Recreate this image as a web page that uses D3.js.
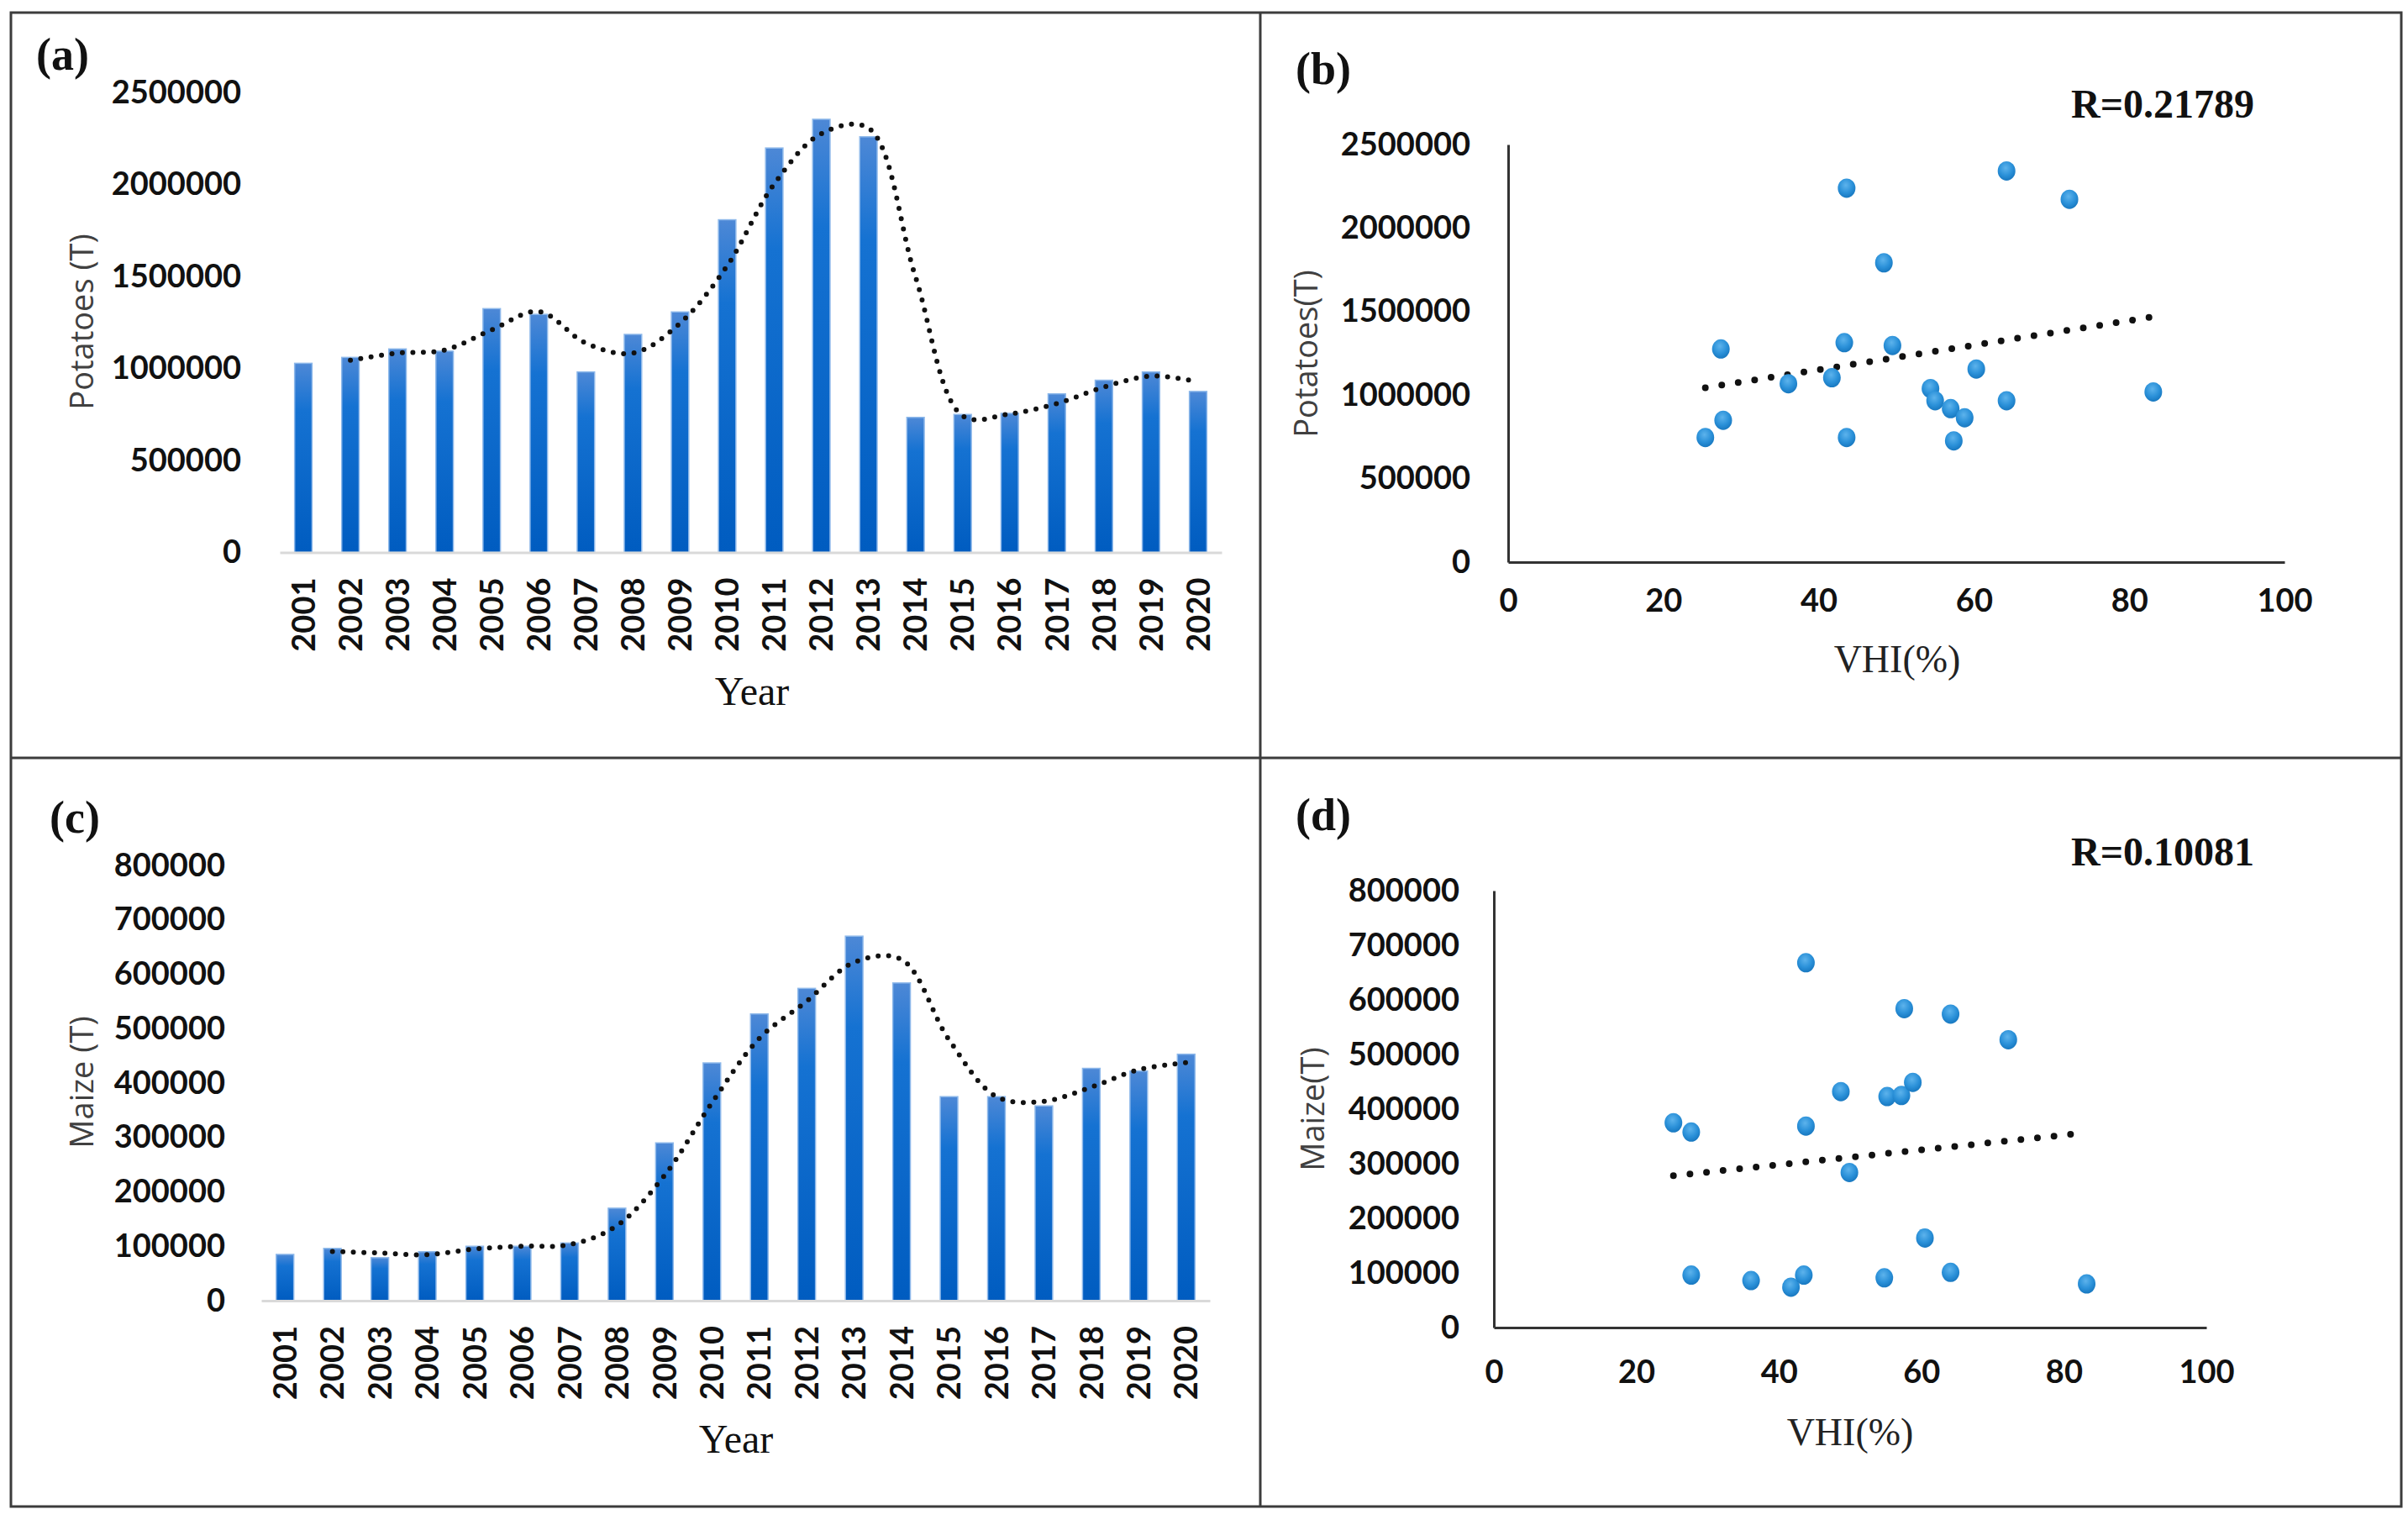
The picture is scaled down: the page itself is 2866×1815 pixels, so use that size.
<!DOCTYPE html>
<html>
<head>
<meta charset="utf-8">
<script src="https://cdn.jsdelivr.net/npm/d3@7"></script>
<style>
  body { margin: 0; background: #fff; }
  svg { display: block; }
</style>
</head>
<body>
<svg id="chart" width="2866" height="1815"></svg>
<script>
// values
const years = ["2001","2002","2003","2004","2005","2006","2007","2008","2009","2010",
               "2011","2012","2013","2014","2015","2016","2017","2018","2019","2020"];
const potatoes = [1028000, 1060000, 1106000, 1094000, 1325000, 1294000, 981000, 1185000, 1307000, 1808000,
                  2198000, 2354000, 2259000, 734000, 750000, 756000, 862000, 936000, 981000, 875000];
const maize = [85000, 96000, 79000, 90000, 100000, 100000, 106000, 170000, 290000, 437000,
               527000, 574000, 670000, 584000, 375000, 375000, 358000, 427000, 422000, 453000];

const potTicks = [0, 500000, 1000000, 1500000, 2000000, 2500000];
const maizeTicks = [0, 100000, 200000, 300000, 400000, 500000, 600000, 700000, 800000];
const vhiTicks = [0, 20, 40, 60, 80, 100];

// scatter (b): VHI vs potatoes
const vhiPot = [25.4, 27.7, 27.4, 36.1, 41.7, 43.3, 43.6, 43.6, 48.4, 49.5,
                54.4, 55.0, 57.0, 58.8, 57.4, 60.3, 64.2, 64.2, 72.3, 83.1];
const potPoints = [746000, 849000, 1276000, 1068000, 1104000, 1314000, 2239000, 746000, 1792000, 1297000,
                   1039000, 966000, 919000, 864000, 726000, 1156000, 2342000, 966000, 2172000, 1019000];
// scatter (d): VHI vs maize
const vhiMaize = [25.2, 27.7, 27.7, 36.1, 41.7, 43.5, 43.8, 43.8, 48.7, 49.9,
                  54.8, 55.2, 57.2, 57.6, 58.8, 60.5, 64.1, 64.1, 72.2, 83.2];
const maizePoints = [375000, 358000, 96000, 86000, 74000, 96000, 668000, 369000, 432000, 284000,
                     91000, 423000, 425000, 584000, 449000, 164000, 574000, 101000, 527000, 80000];

const trendSpanPot = [25.4, 83.1];
const trendSpanMaize = [25.2, 81];
const rPot = "R=0.21789";
const rMaize = "R=0.10081";

const svg = d3.select("#chart");
const tickFont = "Lato, 'Noto Sans', sans-serif";
const serif = "'Liberation Serif', 'DejaVu Serif', serif";
const titleFont = "'Open Sans', 'Noto Sans', sans-serif";

const defs = svg.append("defs");
const barGrad = defs.append("linearGradient")
  .attr("id", "barGrad").attr("x1", 0).attr("y1", 0).attr("x2", 0).attr("y2", 1);
barGrad.append("stop").attr("offset", "0%").attr("stop-color", "#4d88d6");
barGrad.append("stop").attr("offset", "25%").attr("stop-color", "#1572d2");
barGrad.append("stop").attr("offset", "100%").attr("stop-color", "#005cc0");

const dotGrad = defs.append("radialGradient")
  .attr("id", "dotGrad").attr("cx", "45%").attr("cy", "35%").attr("r", "65%");
dotGrad.append("stop").attr("offset", "0%").attr("stop-color", "#5db3ec");
dotGrad.append("stop").attr("offset", "60%").attr("stop-color", "#2b91d9");
dotGrad.append("stop").attr("offset", "100%").attr("stop-color", "#1878c0");

// frame and panel dividers
svg.append("rect")
  .attr("x", 13).attr("y", 15).attr("width", 2845).attr("height", 1778)
  .attr("fill", "none").attr("stroke", "#3c3c3c").attr("stroke-width", 3);
svg.append("line").attr("x1", 1500).attr("x2", 1500).attr("y1", 15).attr("y2", 1793)
  .attr("stroke", "#3c3c3c").attr("stroke-width", 3);
svg.append("line").attr("x1", 13).attr("x2", 2858).attr("y1", 902).attr("y2", 902)
  .attr("stroke", "#3c3c3c").attr("stroke-width", 3);

function styleTicks(g) {
  g.selectAll("text")
    .attr("fill", "#111")
    .style("font-family", tickFont)
    .style("font-weight", 700)
    .style("font-size", "38px");
}

function barPanel(cfg) {
  const x = d3.scaleBand()
    .domain(years)
    .range(cfg.xRange)
    .paddingInner(0.63)
    .paddingOuter(0.315);

  const y = d3.scaleLinear()
    .domain([0, d3.max(cfg.ticks)])
    .range(cfg.yRange);

  svg.append("g")
    .selectAll("rect")
    .data(cfg.values)
    .join("rect")
    .attr("x", (d, i) => x(years[i]))
    .attr("y", d => y(d))
    .attr("width", x.bandwidth())
    .attr("height", d => y(0) - y(d))
    .attr("fill", "url(#barGrad)")
    .attr("stroke", "#8db8ea")
    .attr("stroke-width", 1.5);

  const xAxis = svg.append("g")
    .attr("transform", `translate(0,${y(0)})`)
    .call(d3.axisBottom(x).tickSize(0).tickSizeOuter(0));
  xAxis.select(".domain").attr("stroke", "#d9d9d9").attr("stroke-width", 3);
  styleTicks(xAxis);
  xAxis.selectAll("text")
    .attr("transform", "rotate(-90)")
    .attr("x", -cfg.labelGap)
    .attr("y", 0)
    .attr("dy", "0.36em")
    .style("text-anchor", "end");

  const yAxis = svg.append("g")
    .attr("transform", `translate(${cfg.labelRight},0)`)
    .call(d3.axisLeft(y).tickValues(cfg.ticks).tickFormat(d3.format("d")).tickSize(0).tickPadding(0));
  yAxis.select(".domain").remove();
  styleTicks(yAxis);

  // 2-period moving average trend
  const avg = cfg.values.slice(1).map((v, i) => ({ year: years[i + 1], v: (v + cfg.values[i]) / 2 }));
  const line = d3.line()
    .x(d => x(d.year) + x.bandwidth() / 2)
    .y(d => y(d.v))
    .curve(d3.curveCatmullRom);
  svg.append("path")
    .datum(avg)
    .attr("fill", "none")
    .attr("stroke", "#111")
    .attr("stroke-width", 6)
    .attr("stroke-linecap", "round")
    .attr("stroke-dasharray", "0 12.5")
    .attr("d", line);

  svg.append("text")
    .attr("x", cfg.xTitle[0]).attr("y", cfg.xTitle[1])
    .attr("text-anchor", "middle")
    .style("font-family", serif).style("font-size", "48px").attr("fill", "#111")
    .text("Year");

  svg.append("text")
    .attr("transform", `translate(${cfg.yTitle[0]},${cfg.yTitle[1]}) rotate(-90)`)
    .attr("text-anchor", "middle").attr("dy", "0.36em")
    .style("font-family", titleFont).style("font-size", "38px").attr("fill", "#404040")
    .text(cfg.yLabel);

  svg.append("text")
    .attr("x", cfg.tag[0]).attr("y", cfg.tag[1])
    .style("font-family", serif).style("font-size", "54px").style("font-weight", 700).attr("fill", "#111")
    .text(cfg.tagText);
}

function scatterPanel(cfg) {
  const x = d3.scaleLinear().domain([0, 100]).range(cfg.xRange);
  const y = d3.scaleLinear().domain([0, d3.max(cfg.ticks)]).range(cfg.yRange);

  const xAxis = svg.append("g")
    .attr("transform", `translate(0,${y(0)})`)
    .call(d3.axisBottom(x).tickValues(vhiTicks).tickSize(0).tickSizeOuter(0).tickPadding(cfg.xPad));
  xAxis.select(".domain").attr("stroke", "#333").attr("stroke-width", 3);
  styleTicks(xAxis);

  const yAxis = svg.append("g")
    .attr("transform", `translate(${x(0)},0)`)
    .call(d3.axisLeft(y).tickValues(cfg.ticks).tickFormat(d3.format("d"))
      .tickSize(0).tickSizeOuter(0).tickPadding(cfg.yPad));
  yAxis.select(".domain").attr("stroke", "#333").attr("stroke-width", 3);
  styleTicks(yAxis);

  const pts = cfg.vhi.map((v, i) => ({ x: v, y: cfg.values[i] }));

  // least squares trend line
  const mx = d3.mean(pts, d => d.x);
  const my = d3.mean(pts, d => d.y);
  const slope = d3.sum(pts, d => (d.x - mx) * (d.y - my)) / d3.sum(pts, d => (d.x - mx) ** 2);
  const trend = cfg.span.map(v => ({ x: v, y: my + slope * (v - mx) }));
  svg.append("path")
    .datum(trend)
    .attr("fill", "none")
    .attr("stroke", "#111")
    .attr("stroke-width", 8)
    .attr("stroke-linecap", "round")
    .attr("stroke-dasharray", "0 19.8")
    .attr("d", d3.line().x(d => x(d.x)).y(d => y(d.y)));

  svg.append("g")
    .selectAll("ellipse")
    .data(pts)
    .join("ellipse")
    .attr("cx", d => x(d.x))
    .attr("cy", d => y(d.y))
    .attr("rx", 10.5)
    .attr("ry", 11.5)
    .attr("fill", "url(#dotGrad)");

  svg.append("text")
    .attr("x", cfg.xTitle[0]).attr("y", cfg.xTitle[1])
    .attr("text-anchor", "middle")
    .style("font-family", serif).style("font-size", "46px").attr("fill", "#222")
    .text("VHI(%)");

  svg.append("text")
    .attr("transform", `translate(${cfg.yTitle[0]},${cfg.yTitle[1]}) rotate(-90)`)
    .attr("text-anchor", "middle").attr("dy", "0.36em")
    .style("font-family", titleFont).style("font-size", "38px").attr("fill", "#404040")
    .text(cfg.yLabel);

  svg.append("text")
    .attr("x", 2465).attr("y", cfg.rY)
    .style("font-family", serif).style("font-size", "48px").style("font-weight", 700).attr("fill", "#111")
    .text(cfg.rText);

  svg.append("text")
    .attr("x", cfg.tag[0]).attr("y", cfg.tag[1])
    .style("font-family", serif).style("font-size", "54px").style("font-weight", 700).attr("fill", "#111")
    .text(cfg.tagText);
}

barPanel({
  values: potatoes, ticks: potTicks,
  xRange: [333, 1454], yRange: [657.5, 110],
  labelRight: 287, labelGap: 30,
  xTitle: [895, 839], yTitle: [97, 383], yLabel: "Potatoes (T)",
  tag: [43, 83], tagText: "(a)"
});

barPanel({
  values: maize, ticks: maizeTicks,
  xRange: [311, 1440], yRange: [1548, 1030],
  labelRight: 268, labelGap: 30,
  xTitle: [876, 1729], yTitle: [97, 1288], yLabel: "Maize (T)",
  tag: [59, 991], tagText: "(c)"
});

scatterPanel({
  vhi: vhiPot, values: potPoints, ticks: potTicks, span: trendSpanPot,
  xRange: [1795, 2719], yRange: [669, 172],
  xPad: 32, yPad: 45,
  xTitle: [2258, 800], yTitle: [1554, 421], yLabel: "Potatoes(T)",
  rText: rPot, rY: 140,
  tag: [1542, 100], tagText: "(b)"
});

scatterPanel({
  vhi: vhiMaize, values: maizePoints, ticks: maizeTicks, span: trendSpanMaize,
  xRange: [1778, 2626], yRange: [1580, 1060],
  xPad: 39, yPad: 41,
  xTitle: [2202, 1720], yTitle: [1562, 1320], yLabel: "Maize(T)",
  rText: rMaize, rY: 1030,
  tag: [1542, 988], tagText: "(d)"
});
</script>
</body>
</html>
